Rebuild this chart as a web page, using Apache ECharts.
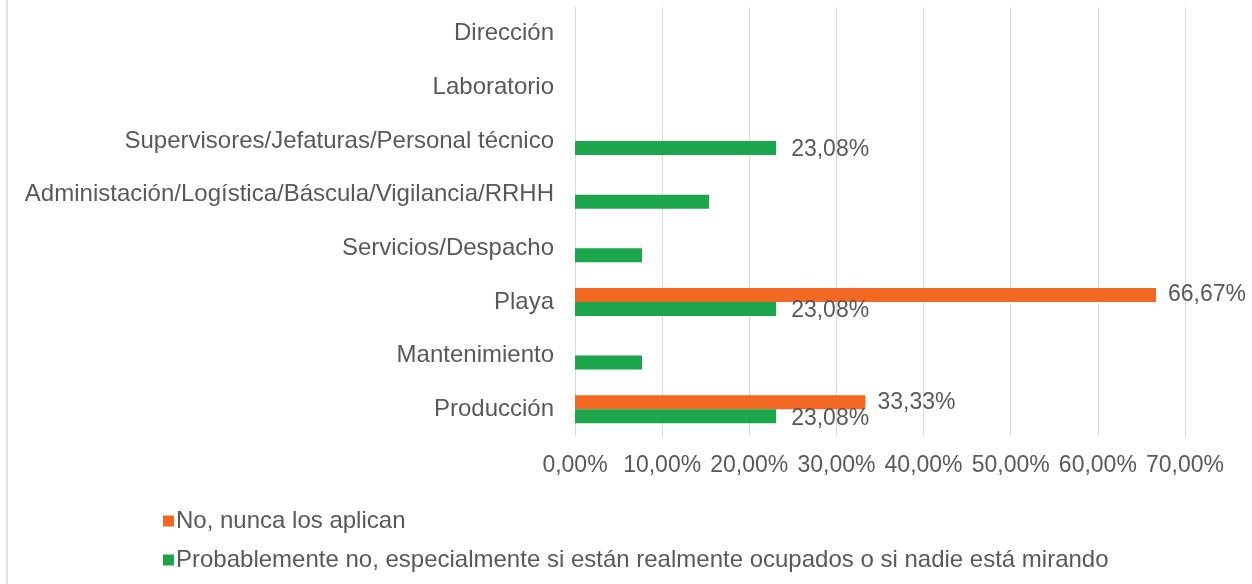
<!DOCTYPE html>
<html>
<head>
    <title>Chart</title>
    <meta charset="utf-8">
    <script type="text/javascript" src="https://cdn.jsdelivr.net/npm/echarts@6/dist/echarts.min.js"></script>
    <style>
        html, body { margin: 0; padding: 0; background: #fff; }
    </style>
</head>
<body>
    <div id="main" style="width:1252px; height:584px;"></div>
    <script type="text/javascript">
        // categories listed bottom to top
        const categories = ['Producción', 'Mantenimiento', 'Playa', 'Servicios/Despacho',
            'Administación/Logística/Báscula/Vigilancia/RRHH',
            'Supervisores/Jefaturas/Personal técnico', 'Laboratorio', 'Dirección'];
        const seriesNames = ['No, nunca los aplican',
            'Probablemente no, especialmente si están realmente ocupados o si nadie está mirando'];
        const noNunca = [33.33, 0, 66.67, 0, 0, 0, 0, 0];
        const probablementeNo = [23.08, 7.69, 23.08, 7.69, 15.38, 23.08, 0, 0];
        const noNuncaLabels = [true, false, true, false, false, false, false, false];
        const probablementeLabels = [true, false, true, false, false, true, false, false];
        const xTicks = [0, 10, 20, 30, 40, 50, 60, 70];

        const font = '"Liberation Sans", Arial, sans-serif';
        const textColor = '#595959';
        const fmt = v => v.toFixed(2).replace('.', ',') + '%';

        function buildData(values, flags) {
            return values.map((v, i) => ({
                value: v,
                label: { show: flags[i] }
            }));
        }

        const chart = echarts.init(document.getElementById('main'));
        chart.setOption({
            animation: false,
            textStyle: { fontFamily: font },
            graphic: [{
                type: 'line',
                shape: { x1: 7, y1: 0, x2: 7, y2: 584 },
                style: { stroke: '#d9d9d9', lineWidth: 1.5 }
            }],
            grid: { left: 575, right: 67, top: 7, bottom: 148, containLabel: false },
            legend: {
                orient: 'vertical',
                left: 158,
                top: 504,
                data: seriesNames,
                itemWidth: 11,
                itemHeight: 11,
                itemGap: 15,
                icon: 'rect',
                textStyle: { color: textColor, fontSize: 24, fontFamily: font, padding: [0, 0, 0, -3] }
            },
            xAxis: {
                type: 'value',
                min: xTicks[0],
                max: xTicks[xTicks.length - 1],
                interval: 10,
                axisLine: { show: false },
                axisTick: { show: false },
                splitLine: { lineStyle: { color: '#d9d9d9', width: 1 } },
                axisLabel: {
                    color: textColor, fontSize: 23, fontFamily: font, margin: 18,
                    formatter: fmt
                }
            },
            yAxis: {
                type: 'category',
                data: categories,
                axisLine: { show: true, lineStyle: { color: '#d9d9d9', width: 1 } },
                axisTick: { show: false },
                axisLabel: { color: textColor, fontSize: 24, fontFamily: font, margin: 21 }
            },
            series: [
                {
                    name: seriesNames[0],
                    type: 'bar',
                    barWidth: 14,
                    barGap: '0%',
                    itemStyle: { color: '#f26722' },
                    label: {
                        position: 'right', distance: 12, color: textColor,
                        fontSize: 23, fontFamily: font,
                        formatter: p => fmt(p.value)
                    },
                    data: buildData(noNunca, noNuncaLabels)
                },
                {
                    name: seriesNames[1],
                    type: 'bar',
                    barWidth: 14,
                    barGap: '0%',
                    itemStyle: { color: '#1ba64b' },
                    label: {
                        position: 'right', distance: 15, color: textColor,
                        fontSize: 23, fontFamily: font, offset: [0, 2],
                        formatter: p => fmt(p.value)
                    },
                    data: buildData(probablementeNo, probablementeLabels)
                }
            ]
        });
    </script>
</body>
</html>
